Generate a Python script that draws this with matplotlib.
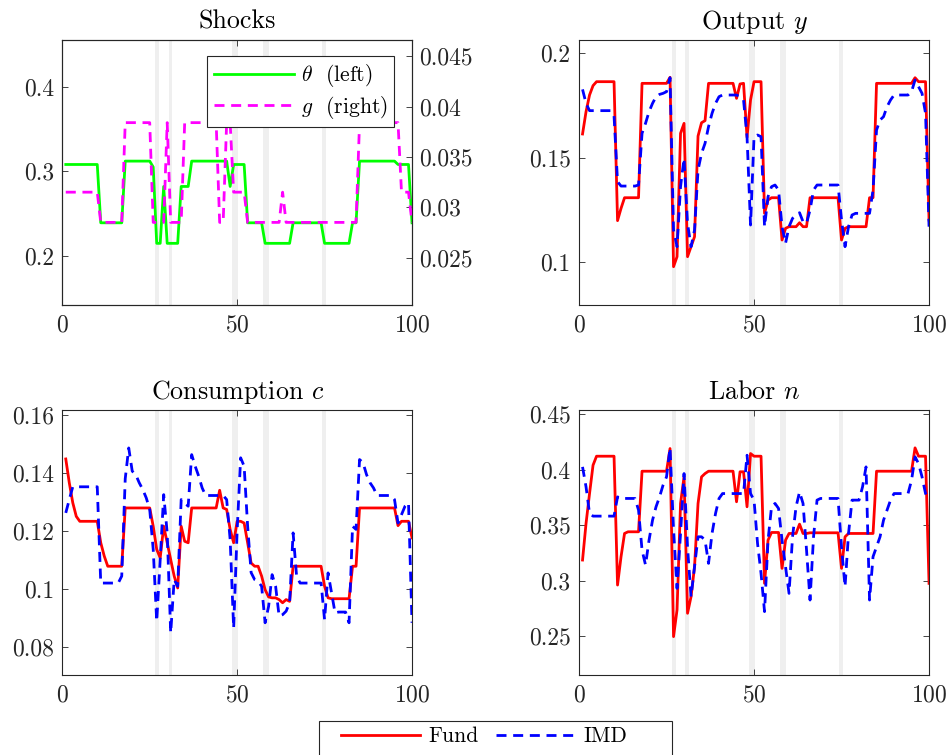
import numpy as np
import matplotlib
matplotlib.use('Agg')
import matplotlib.pyplot as plt
from matplotlib.lines import Line2D
from matplotlib.patches import Rectangle
from matplotlib.ticker import FormatStrFormatter

plt.rcParams['font.family'] = 'cmr10'
plt.rcParams['mathtext.fontset'] = 'cm'
plt.rcParams['axes.formatter.use_mathtext'] = True

periods = np.arange(1, 101)

# shaded crisis periods
crisis_start = [26.6, 30.4, 48.5, 57.4, 74.3]
crisis_end = [27.6, 31.4, 50.3, 59.2, 75.3]

theta = [0.308, 0.308, 0.308, 0.308, 0.308, 0.308, 0.308, 0.308, 0.308, 0.308,
         0.239, 0.239, 0.239, 0.239, 0.239, 0.239, 0.239, 0.312, 0.312, 0.312,
         0.312, 0.312, 0.312, 0.312, 0.312, 0.305, 0.2147, 0.2147, 0.282, 0.2147,
         0.2147, 0.2147, 0.2147, 0.282, 0.282, 0.282, 0.312, 0.312, 0.312, 0.312,
         0.312, 0.312, 0.312, 0.312, 0.312, 0.312, 0.312, 0.282, 0.308, 0.308,
         0.308, 0.308, 0.239, 0.239, 0.239, 0.239, 0.239, 0.2147, 0.2147, 0.2147,
         0.2147, 0.2147, 0.2147, 0.2147, 0.2147, 0.239, 0.239, 0.239, 0.239, 0.239,
         0.239, 0.239, 0.239, 0.239, 0.2147, 0.2147, 0.2147, 0.2147, 0.2147, 0.2147,
         0.2147, 0.2147, 0.239, 0.239, 0.312, 0.312, 0.312, 0.312, 0.312, 0.312,
         0.312, 0.312, 0.312, 0.312, 0.312, 0.308, 0.308, 0.308, 0.308, 0.239]

g = [0.0315, 0.0315, 0.0315, 0.0315, 0.0315, 0.0315, 0.0315, 0.0315, 0.0315, 0.0315,
     0.0285, 0.0285, 0.0285, 0.0285, 0.0285, 0.0285, 0.0285, 0.0384, 0.0384, 0.0384,
     0.0384, 0.0384, 0.0384, 0.0384, 0.0384, 0.0285, 0.0285, 0.0285, 0.0285, 0.0384,
     0.0285, 0.0285, 0.0285, 0.0285, 0.0384, 0.0384, 0.0384, 0.0384, 0.0384, 0.0384,
     0.0384, 0.0384, 0.0384, 0.0384, 0.0285, 0.0285, 0.0384, 0.0384, 0.0315, 0.0315,
     0.0315, 0.0315, 0.0285, 0.0285, 0.0285, 0.0285, 0.0285, 0.0285, 0.0285, 0.0285,
     0.0285, 0.0285, 0.0315, 0.0285, 0.0285, 0.0285, 0.0285, 0.0285, 0.0285, 0.0285,
     0.0285, 0.0285, 0.0285, 0.0285, 0.0285, 0.0285, 0.0285, 0.0285, 0.0285, 0.0285,
     0.0285, 0.0285, 0.0285, 0.0285, 0.0384, 0.0384, 0.0384, 0.0384, 0.0384, 0.0384,
     0.0384, 0.0384, 0.0384, 0.0384, 0.0384, 0.0384, 0.0315, 0.0315, 0.0315, 0.0285]

y_fund = [0.1613, 0.172, 0.180, 0.1845, 0.1864, 0.1864, 0.1864, 0.1864, 0.1864, 0.1864,
          0.1197, 0.1256, 0.1307, 0.1307, 0.1307, 0.1307, 0.1307, 0.1856, 0.1856, 0.1856,
          0.1856, 0.1856, 0.1856, 0.1856, 0.1856, 0.1885, 0.0976, 0.1024, 0.1616, 0.1664,
          0.1024, 0.1072, 0.112, 0.1603, 0.1667, 0.1677, 0.1856, 0.1856, 0.1856, 0.1856,
          0.1856, 0.1856, 0.1856, 0.1856, 0.1784, 0.1853, 0.1856, 0.1597, 0.1776, 0.1864,
          0.1864, 0.1864, 0.1232, 0.1296, 0.1307, 0.1307, 0.1307, 0.1104, 0.116, 0.1168,
          0.1168, 0.1168, 0.1187, 0.1168, 0.1168, 0.1307, 0.1307, 0.1307, 0.1307, 0.1307,
          0.1307, 0.1307, 0.1307, 0.1307, 0.1104, 0.116, 0.1168, 0.1168, 0.1168, 0.1168,
          0.1168, 0.1168, 0.1307, 0.1307, 0.1856, 0.1856, 0.1856, 0.1856, 0.1856, 0.1856,
          0.1856, 0.1856, 0.1856, 0.1856, 0.1856, 0.1883, 0.1864, 0.1864, 0.1864, 0.12]

y_imd = [0.1827, 0.176, 0.1725, 0.1725, 0.1725, 0.1725, 0.1725, 0.1725, 0.1725, 0.170,
         0.1384, 0.1363, 0.1363, 0.1363, 0.1363, 0.1363, 0.1368, 0.1616, 0.1664, 0.172,
         0.176, 0.1792, 0.1803, 0.1808, 0.1816, 0.1883, 0.1152, 0.1072, 0.136, 0.1496,
         0.1184, 0.1072, 0.1152, 0.144, 0.152, 0.1568, 0.1648, 0.1712, 0.176, 0.1792,
         0.18, 0.18, 0.18, 0.18, 0.18, 0.1792, 0.1776, 0.16, 0.1176, 0.16,
         0.1608, 0.16, 0.1168, 0.1312, 0.136, 0.1368, 0.1344, 0.1168, 0.1088, 0.1168,
         0.1208, 0.1224, 0.1235, 0.1192, 0.1184, 0.1248, 0.1344, 0.1368, 0.1368, 0.1368,
         0.1368, 0.1368, 0.1368, 0.1368, 0.12, 0.1072, 0.1168, 0.1224, 0.1232, 0.1232,
         0.1232, 0.1232, 0.1232, 0.1344, 0.1632, 0.168, 0.1696, 0.1744, 0.1776, 0.18,
         0.18, 0.18, 0.18, 0.18, 0.1816, 0.1872, 0.184, 0.1808, 0.1712, 0.1168]

c_fund = [0.1448, 0.1366, 0.1297, 0.125, 0.1233, 0.1233, 0.1233, 0.1233, 0.1233, 0.1233,
          0.1159, 0.1113, 0.1078, 0.1078, 0.1078, 0.1078, 0.1078, 0.1279, 0.1279, 0.1279,
          0.1279, 0.1279, 0.1279, 0.1279, 0.1279, 0.1216, 0.1136, 0.1107, 0.1216, 0.1159,
          0.1101, 0.1044, 0.1003, 0.1216, 0.1164, 0.1159, 0.1279, 0.1279, 0.1279, 0.1279,
          0.1279, 0.1279, 0.1279, 0.1279, 0.134, 0.1279, 0.1274, 0.1205, 0.1159, 0.1233,
          0.1233, 0.1227, 0.1159, 0.1089, 0.1078, 0.1078, 0.1044, 0.0997, 0.0972, 0.0969,
          0.0969, 0.0963, 0.0952, 0.0963, 0.0957, 0.1078, 0.1078, 0.1078, 0.1078, 0.1078,
          0.1078, 0.1078, 0.1078, 0.1078, 0.1009, 0.0969, 0.0966, 0.0966, 0.0966, 0.0966,
          0.0966, 0.0966, 0.1078, 0.1078, 0.1279, 0.1279, 0.1279, 0.1279, 0.1279, 0.1279,
          0.1279, 0.1279, 0.1279, 0.1279, 0.1279, 0.1218, 0.1233, 0.1233, 0.1233, 0.1176]

c_imd = [0.1262, 0.1308, 0.1352, 0.1352, 0.1352, 0.1352, 0.1352, 0.1352, 0.1352, 0.1352,
         0.102, 0.102, 0.102, 0.102, 0.102, 0.102, 0.1044, 0.138, 0.1486, 0.1406,
         0.1394, 0.1366, 0.1343, 0.1314, 0.1274, 0.1136, 0.0888, 0.1101, 0.1325, 0.1193,
         0.0848, 0.1032, 0.1009, 0.1308, 0.1297, 0.1285, 0.1463, 0.1423, 0.1389, 0.1348,
         0.1322, 0.1322, 0.1322, 0.1322, 0.1322, 0.1322, 0.1308, 0.117, 0.0865, 0.12,
         0.1452, 0.1423, 0.1216, 0.1056, 0.1032, 0.1026, 0.1009, 0.0883, 0.094, 0.1049,
         0.1009, 0.0906, 0.0911, 0.0923, 0.0952, 0.1193, 0.1044, 0.102, 0.102, 0.102,
         0.102, 0.102, 0.102, 0.102, 0.0894, 0.1055, 0.0986, 0.0917, 0.092, 0.092,
         0.092, 0.0883, 0.1216, 0.1205, 0.1446, 0.1435, 0.1394, 0.1366, 0.1348, 0.1322,
         0.1322, 0.1322, 0.1322, 0.1322, 0.1308, 0.1227, 0.1256, 0.1285, 0.1297, 0.0883]

n_fund = [0.3186, 0.3515, 0.3784, 0.4039, 0.412, 0.412, 0.412, 0.412, 0.412, 0.412,
          0.2961, 0.3216, 0.3425, 0.344, 0.344, 0.344, 0.344, 0.3985, 0.3985, 0.3985,
          0.3985, 0.3985, 0.3985, 0.3985, 0.3985, 0.4189, 0.2497, 0.2737, 0.3695, 0.3934,
          0.2707, 0.2856, 0.3126, 0.3695, 0.3934, 0.3964, 0.3985, 0.3985, 0.3985, 0.3985,
          0.3985, 0.3985, 0.3985, 0.3985, 0.371, 0.398, 0.398, 0.3665, 0.4144, 0.412,
          0.412, 0.412, 0.2976, 0.3365, 0.3434, 0.3434, 0.3434, 0.3111, 0.3365, 0.3425,
          0.3425, 0.3425, 0.3509, 0.3425, 0.3425, 0.3431, 0.3431, 0.3431, 0.3431, 0.3431,
          0.3431, 0.3431, 0.3431, 0.3431, 0.3111, 0.3395, 0.3425, 0.3425, 0.3425, 0.3425,
          0.3425, 0.3425, 0.3425, 0.3425, 0.3985, 0.3985, 0.3985, 0.3985, 0.3985, 0.3985,
          0.3985, 0.3985, 0.3985, 0.3985, 0.3985, 0.4195, 0.412, 0.412, 0.412, 0.2976]

n_imd = [0.4024, 0.3844, 0.3605, 0.3581, 0.3581, 0.3581, 0.3581, 0.3581, 0.3581, 0.3581,
         0.3754, 0.374, 0.374, 0.374, 0.374, 0.374, 0.3635, 0.3275, 0.3141, 0.3365,
         0.3545, 0.3665, 0.3754, 0.3859, 0.3934, 0.4195, 0.346, 0.2931, 0.3425, 0.3964,
         0.33, 0.2856, 0.3126, 0.3395, 0.3395, 0.3365, 0.3156, 0.3425, 0.3605, 0.374,
         0.3784, 0.3784, 0.3784, 0.3784, 0.3784, 0.3784, 0.3784, 0.4129, 0.3784, 0.3725,
         0.3335, 0.3066, 0.2722, 0.3365, 0.3665, 0.3695, 0.365, 0.3365, 0.3126, 0.2886,
         0.3395, 0.3665, 0.3799, 0.3695, 0.3275, 0.2826, 0.3395, 0.3725, 0.374, 0.374,
         0.374, 0.374, 0.374, 0.374, 0.33, 0.2946, 0.3425, 0.3725, 0.3725, 0.3725,
         0.3844, 0.4024, 0.2826, 0.3216, 0.3305, 0.3395, 0.3545, 0.3635, 0.3725, 0.3784,
         0.3784, 0.3784, 0.3784, 0.3784, 0.3904, 0.4114, 0.4054, 0.3934, 0.3784, 0.3725]

AX_COLOR = '#262626'
TICK_SIZE = 17
TITLE_SIZE = 18.7
LEGEND_SIZE = 15.5
LW = 2.0
DASH = (0, (3.6, 2.4))


def style_axes(ax, ylim, yticks, right_ticks=True):
    ax.set_xlim(0, 100)
    ax.set_xticks([0, 50, 100])
    ax.set_ylim(*ylim)
    ax.set_yticks(yticks)
    ax.yaxis.set_major_formatter(FormatStrFormatter('%g'))
    ax.tick_params(direction='in', length=4, width=0.6, colors=AX_COLOR,
                   labelsize=TICK_SIZE, top=True, right=right_ticks)
    ax.tick_params(axis='x', pad=7)
    ax.tick_params(axis='y', pad=6)
    for sp in ax.spines.values():
        sp.set_color(AX_COLOR)
        sp.set_linewidth(0.8)
    for s, e in zip(crisis_start, crisis_end):
        ax.axvspan(s, e, color='#efefef', lw=0, zorder=0)


fig = plt.figure(figsize=(9.48, 7.55), dpi=100)

ax1 = fig.add_axes([0.0657, 0.596, 0.3689, 0.351])
ax2 = fig.add_axes([0.6108, 0.596, 0.3692, 0.351])
ax3 = fig.add_axes([0.0657, 0.106, 0.3689, 0.351])
ax4 = fig.add_axes([0.6108, 0.106, 0.3692, 0.351])

# Shocks
style_axes(ax1, (0.1417, 0.4553), [0.2, 0.3, 0.4], right_ticks=False)
ln_theta, = ax1.plot(periods, theta, color='#00ff00', lw=LW)
ax1.set_title('Shocks', fontsize=TITLE_SIZE, pad=8, color='k')
ax1r = ax1.twinx()
ax1r.set_ylim(0.0203, 0.0466)
ax1r.set_yticks([0.025, 0.03, 0.035, 0.04, 0.045])
ax1r.yaxis.set_major_formatter(FormatStrFormatter('%g'))
ax1r.tick_params(direction='in', length=4, width=0.6, colors=AX_COLOR,
                 labelsize=TICK_SIZE, pad=5)
for sp in ax1r.spines.values():
    sp.set_color(AX_COLOR)
    sp.set_linewidth(0.8)
ln_g, = ax1r.plot(periods, g, color='#ff00ff', lw=LW, ls=DASH)
leg1 = ax1r.legend([ln_theta, ln_g], [r'$\theta$  (left)', r'$g$  (right)'],
                   loc='upper right', bbox_to_anchor=(0.949, 0.94),
                   borderaxespad=0, borderpad=0.3, handlelength=3.7,
                   handletextpad=0.35, labelspacing=0.2, fontsize=LEGEND_SIZE,
                   fancybox=False, framealpha=1, edgecolor=AX_COLOR)
leg1.get_frame().set_linewidth(0.8)

# Output
style_axes(ax2, (0.0792, 0.2064), [0.1, 0.15, 0.2])
ax2.plot(periods, y_fund, color='#ff0000', lw=LW)
ax2.plot(periods, y_imd, color='#0000ff', lw=LW, ls=DASH)
ax2.set_title('Output $y$', fontsize=TITLE_SIZE, pad=8)

# Consumption
style_axes(ax3, (0.0703, 0.1617), [0.08, 0.1, 0.12, 0.14, 0.16])
ax3.plot(periods, c_fund, color='#ff0000', lw=LW)
ax3.plot(periods, c_imd, color='#0000ff', lw=LW, ls=DASH)
ax3.set_title('Consumption $c$', fontsize=TITLE_SIZE, pad=8)

# Labor
style_axes(ax4, (0.2152, 0.4536), [0.25, 0.3, 0.35, 0.4, 0.45])
ax4.plot(periods, n_fund, color='#ff0000', lw=LW)
ax4.plot(periods, n_imd, color='#0000ff', lw=LW, ls=DASH)
ax4.set_title('Labor $n$', fontsize=TITLE_SIZE, pad=8)

# shared legend at the bottom
h_fund = Line2D([], [], color='#ff0000', lw=LW)
h_imd = Line2D([], [], color='#0000ff', lw=LW, ls=DASH)
fig.legend([h_fund, h_imd], ['Fund', 'IMD'], loc='center left',
           bbox_to_anchor=(0.3594, 0.0242), ncol=2, frameon=False,
           borderpad=0, borderaxespad=0, handlelength=3.7, handletextpad=0.35,
           columnspacing=0.85, fontsize=LEGEND_SIZE)
fig.patches.append(Rectangle((0.3368, -0.02), 0.3724, 0.0655,
                             transform=fig.transFigure, fill=False,
                             ec=AX_COLOR, lw=0.8))

fig.savefig('out.png', dpi=100)
